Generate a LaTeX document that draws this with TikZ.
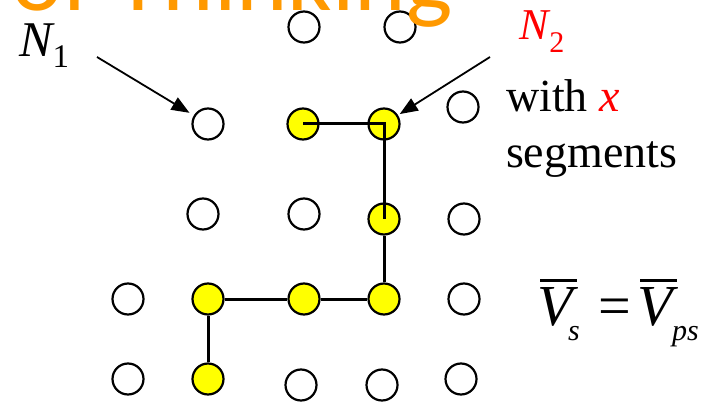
\documentclass[tikz,border=0pt]{standalone}
\usepackage{fontspec}
\setmainfont{Liberation Serif}
\newfontfamily\titlefont{Carlito}
\usetikzlibrary{arrows.meta,backgrounds}
\definecolor{ttlorange}{RGB}{255,153,0}
\definecolor{dotyellow}{RGB}{255,255,0}
\definecolor{lblred}{RGB}{255,0,0}
\tikzset{
  dot/.style={circle,draw=black,line width=2.2pt,minimum size=31pt,inner sep=0pt,fill=white},
  ydot/.style={dot,fill=dotyellow},
  seg/.style={line width=3pt},
  ptr/.style={line width=1.8pt,-{Triangle[length=18pt,width=14pt]}},
  txt/.style={anchor=base west,inner sep=0pt,outer sep=0pt},
  mbar/.style={line width=3pt},
}
\begin{document}
\begin{tikzpicture}[x=1pt,y=-1pt]
\useasboundingbox (0,0) rectangle (708,403);
% row 1
\node[dot] (a1) at (304,27) {};
\node[dot] (a2) at (400,27) {};
% row 2
\node[dot]  (b1) at (208,124) {};
\node[ydot] (b2) at (303,124) {};
\node[ydot] (b3) at (384,124) {};
\node[dot]  (b4) at (463,107) {};
% row 3
\node[dot]  (c1) at (203,214) {};
\node[dot]  (c2) at (304,214) {};
\node[ydot] (c3) at (384,219) {};
\node[dot]  (c4) at (464,219) {};
% row 4
\node[dot]  (d1) at (128,299) {};
\node[ydot] (d2) at (208,299) {};
\node[ydot] (d3) at (304,299) {};
\node[ydot] (d4) at (384,299) {};
\node[dot]  (d5) at (464,299) {};
% row 5
\node[dot]  (e1) at (128,379) {};
\node[ydot] (e2) at (208,379) {};
\node[dot]  (e3) at (301,385) {};
\node[dot]  (e4) at (382,385) {};
\node[dot]  (e5) at (461,379) {};
% path segments
\begin{scope}[on background layer]
\draw[seg] (c3) -- (d4);
\draw[seg] (d4) -- (d3);
\draw[seg] (d3) -- (d2);
\draw[seg] (d2) -- (e2);
\end{scope}
\draw[seg] (b2.center) -- (b3.center) -- (c3.center);
% labels
\node[txt,font=\fontsize{50}{50}\selectfont] (n1lbl) at (19,57) {\textit{N}\kern-2pt\raisebox{-11pt}{\fontsize{33}{33}\selectfont 1}};
\node[txt,text=lblred,font=\fontsize{44}{44}\selectfont] (n2lbl) at (519,40) {\textit{N}\kern-1pt\raisebox{-13pt}{\fontsize{30}{30}\selectfont 2}};
\coordinate (n1tail) at (97,57);
\coordinate (n2tail) at (490,57);
\draw[ptr,shorten >=5pt] (n1tail) -- (b1);
\draw[ptr,shorten >=2pt] (n2tail) -- (b3);
\node[txt,font=\fontsize{46}{46}\selectfont] (withx) at (506,112) {with \textcolor{lblred}{\textit{x}}};
\node[txt,font=\fontsize{46}{46}\selectfont] (segs) at (506,168) {segments};
% formula
\node[txt,font=\fontsize{58}{58}\selectfont\itshape] (v1) at (537,325) {V};
\node[txt,font=\fontsize{30}{30}\selectfont\itshape] (s1) at (568,340) {s};
\node[txt,font=\fontsize{58}{58}\selectfont] (eq) at (598,325) {=};
\node[txt,font=\fontsize{58}{58}\selectfont\itshape] (v2) at (637,325) {V};
\node[txt,font=\fontsize{30}{30}\selectfont\itshape] (ps) at (672,340) {ps};
\draw[mbar] (540,280) -- (577,280);
\draw[mbar] (640,280) -- (677,280);
% clipped title
\node[anchor=south east,inner sep=0pt,text=ttlorange,font=\titlefont\fontsize{98}{98}\selectfont] (title) at (453,28) {of Thinking};
\end{tikzpicture}
\end{document}
